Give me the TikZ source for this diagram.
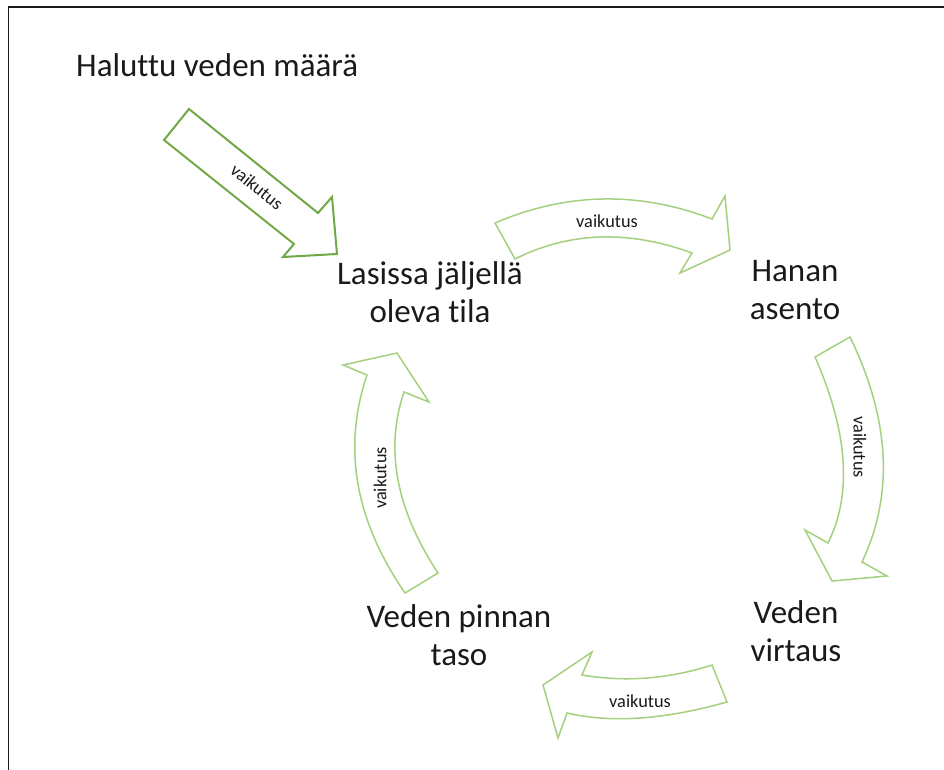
\documentclass[tikz,border=0pt]{standalone}
\usepackage{fontspec}
\setmainfont{Carlito}[Ligatures=NoCommon]
\definecolor{arrowdark}{RGB}{112,168,70}
\definecolor{arrowlight}{RGB}{165,208,125}
\definecolor{inkdark}{RGB}{26,26,26}
\begin{document}
\begin{tikzpicture}[x=1pt,y=-1pt,
  label/.style={font=\fontsize{33}{38}\selectfont, text=inkdark, inner sep=0pt, align=center},
  tag/.style={font=\fontsize{18.3}{20}\selectfont, text=inkdark, inner sep=0pt},
  blockdark/.style={draw=arrowdark, line width=2pt, fill=white, line join=miter},
  blocklight/.style={draw=arrowlight, line width=1.5pt, fill=white, line join=miter}]
\useasboundingbox (0,0) rectangle (944,770);
% frame
\draw[line width=1.5pt, inkdark] (8.5,770) -- (8.5,7) -- (944,7);

% straight block arrow from the target amount
\draw[blockdark] (164,140) -- (189,109) -- (318,213) -- (332,197) -- (337,254)
  -- (283,257) -- (294,244) -- cycle;
\node[tag, rotate=-39] (t0) at (257,187) {vaikutus};

% curved arrow: space -> tap
\draw[blocklight] (495,223) .. controls (566.7,192.3) and (639,191) .. (712,219)
  -- (725,196) -- (730,250) -- (680,273) -- (692,253)
  .. controls (628.3,229.7) and (569.3,231.7) .. (515,259) -- cycle;
\node[tag] (t1) at (607,221) {vaikutus};

% curved arrow: tap -> flow
\draw[blocklight] (850,337) .. controls (890,419.3) and (894,494.3) .. (862,562)
  -- (887,576) -- (832,581) -- (805,530) -- (828,543)
  .. controls (852.3,494.3) and (848,432.3) .. (815,357) -- cycle;
\node[tag, rotate=-90] (t2) at (860,447) {vaikutus};

% curved arrow: flow -> level
\draw[blocklight] (712,665) .. controls (668.7,679) and (625.3,682.3) .. (582,675)
  -- (592,652) -- (543,685) -- (558,738) -- (567,713)
  .. controls (611,723.3) and (664.3,719.7) .. (727,702) -- cycle;
\node[tag] (t3) at (640,701) {vaikutus};

% curved arrow: level -> space
\draw[blocklight] (405,593) .. controls (355,520.3) and (342.3,447.7) .. (367,375)
  -- (343,365) -- (397,353) -- (429,402) -- (404,392)
  .. controls (384.7,449) and (396,509.3) .. (438,573) -- cycle;
\node[tag, rotate=90] (t4) at (380,478) {vaikutus};

% labels (base anchor sits on the last line)
\node[label, anchor=base west] (goal) at (76,77) {Haluttu veden määrä};
\node[label, anchor=base] (space) at (430,322) {Lasissa jäljellä\\oleva tila};
\node[label, anchor=base] (tap) at (795,319) {Hanan\\asento};
\node[label, anchor=base] (flow) at (796,661) {Veden\\virtaus};
\node[label, anchor=base] (level) at (459,665) {Veden pinnan\\taso};
\end{tikzpicture}
\end{document}
